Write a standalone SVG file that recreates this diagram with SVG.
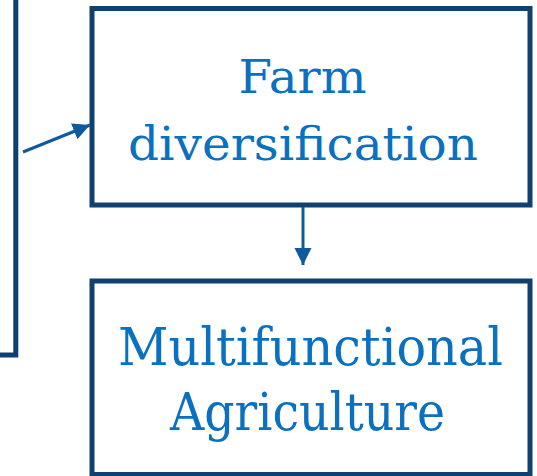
<svg xmlns="http://www.w3.org/2000/svg" width="537" height="476" viewBox="0 0 537 476">
  <style>
    .box { fill: #ffffff; stroke: #0e4070; stroke-width: 5; stroke-linejoin: miter; }
    .label { font-family: "DejaVu Serif", "Liberation Serif", serif; fill: #0a70c0; text-anchor: middle; }
    .edge { fill: none; stroke: #0f5a9e; stroke-width: 3; }
  </style>
  <defs>
    <marker id="arrow" markerUnits="userSpaceOnUse" markerWidth="18" markerHeight="18" refX="17" refY="8.5" orient="auto">
      <path d="M0,0 L17,8.5 L0,17 Z" fill="#0f5a9e"/>
    </marker>
  </defs>

  <rect width="537" height="476" fill="#ffffff"/>

  <!-- box continuing off the left edge -->
  <g id="node-left">
    <rect class="box" x="-20" y="-20" width="35.8" height="375"/>
  </g>

  <g id="node-farm">
    <rect class="box" x="92" y="8.5" width="438" height="196.5"/>
    <text class="label" x="302.5" y="92.5" font-size="46" textLength="128" lengthAdjust="spacingAndGlyphs">Farm</text>
    <text class="label" x="303" y="160" font-size="46" textLength="350" lengthAdjust="spacingAndGlyphs">diversification</text>
  </g>

  <g id="node-multi">
    <rect class="box" x="92" y="281" width="438" height="193.5"/>
    <text class="label" x="310.5" y="365" font-size="52" textLength="385" lengthAdjust="spacingAndGlyphs">Multifunctional</text>
    <text class="label" x="307.5" y="430" font-size="52" textLength="275" lengthAdjust="spacingAndGlyphs">Agriculture</text>
  </g>

  <g id="connectors">
    <line class="edge" x1="23" y1="152" x2="90" y2="125" marker-end="url(#arrow)"/>
    <line class="edge" x1="303" y1="207" x2="303" y2="265" marker-end="url(#arrow)"/>
  </g>
</svg>
